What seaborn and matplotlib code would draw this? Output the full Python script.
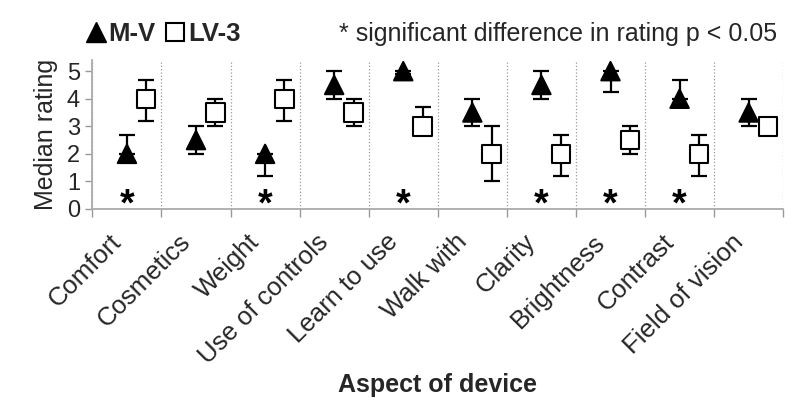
import matplotlib
matplotlib.use("Agg")
import matplotlib.pyplot as plt
from matplotlib.lines import Line2D
import seaborn as sns
import pandas as pd
import numpy as np

categories = ["Comfort", "Cosmetics", "Weight", "Use of controls", "Learn to use",
              "Walk with", "Clarity", "Brightness", "Contrast", "Field of vision"]
mv_median = [2, 2.5, 2, 4.5, 5, 3.5, 4.5, 5, 4, 3.5]
mv_low = [2, 2, 1.2, 4, 4.9, 3, 4, 4.25, 4, 3]
mv_high = [2.67, 3, 2, 5, 5, 4, 5, 5, 4.67, 4]
lv_median = [4, 3.5, 4, 3.5, 3, 2, 2, 2.5, 2, 3]
lv_low = [3.2, 3, 3.2, 3, 3, 1, 1.2, 2, 1.2, 3]
lv_high = [4.67, 4, 4.67, 4, 3.7, 3, 2.67, 3, 2.67, 3]
significant = [True, False, True, False, True, False, True, True, True, False]
star_y = 0.12

sns.set_theme(style="white")
plt.rcParams['font.family'] = ['Liberation Sans', 'DejaVu Sans']

idx = np.arange(len(categories))
lv_off = 0.28
label_shift = 0.26
df = pd.DataFrame({
    "pos": np.concatenate([idx, idx + lv_off]),
    "median": mv_median + lv_median,
    "low": mv_low + lv_low,
    "high": mv_high + lv_high,
    "device": ["M-V"] * len(idx) + ["LV-3"] * len(idx),
})

fig = plt.figure(figsize=(8, 4.15), dpi=100)
ax = fig.add_axes([0.1155, 0.4964, 0.8635, 0.3586])

# error bars
for dev in ["M-V", "LV-3"]:
    d = df[df.device == dev]
    yerr = np.vstack([d["median"] - d["low"], d["high"] - d["median"]])
    ax.errorbar(d["pos"], d["median"], yerr=yerr, fmt="none", ecolor="black",
                elinewidth=1.6, capsize=6, capthick=1.6, zorder=2)

sns.scatterplot(data=df, x="pos", y="median", hue="device", style="device",
                markers={"M-V": "^", "LV-3": "s"},
                palette={"M-V": "black", "LV-3": "white"},
                s=175, edgecolor="black", linewidth=1.5, legend=False, ax=ax, zorder=3)

for i, sig in enumerate(significant):
    if sig:
        ax.text(idx[i], star_y, "*", ha="center", va="center", fontsize=27,
                fontweight="bold", color="black")

ax.set_xlim(-0.5, len(categories) - 0.5)
ax.set_ylim(0, 5.4)
ax.set_yticks(range(0, 6))
# rotated labels sit slightly left of their category (as in the reference)
ax.set_xticks(idx - label_shift)
ax.set_xticklabels(categories, rotation=45, ha="right", rotation_mode="anchor",
                   fontsize=18.5)
ax.set_xticks(np.arange(-0.5, len(categories)), minor=True)
ax.tick_params(axis="x", which="major", length=0, pad=15)
ax.tick_params(axis="x", which="minor", length=6, width=1, color="#999999", direction="out", bottom=True)
ax.tick_params(axis="y", which="major", length=5, width=1, color="#999999", direction="out",
               left=True, labelsize=17, pad=4)
ax.grid(axis="x", which="minor", color="#999999", linestyle=":", linewidth=0.9)
ax.grid(axis="y", visible=False)
for s in ["top", "right"]:
    ax.spines[s].set_visible(False)
for s in ["left", "bottom"]:
    ax.spines[s].set_color("#aaaaaa")
    ax.spines[s].set_linewidth(1.3)

ax.set_xlabel("Aspect of device", fontsize=18, fontweight="bold")
ax.xaxis.set_label_coords(0.5, -1.10)
ax.set_ylabel("Median rating", fontsize=18, labelpad=6)

handles = [
    Line2D([], [], marker="^", color="black", linestyle="none", markersize=14,
           markerfacecolor="black"),
    Line2D([], [], marker="s", color="black", linestyle="none", markersize=13,
           markerfacecolor="white", markeredgewidth=1.5),
]
fig.legend(handles, ["M-V", "LV-3"], loc="center left", bbox_to_anchor=(0.078, 0.918),
           ncol=2, frameon=False, handlelength=0.8, handletextpad=0.1, columnspacing=0.35,
           prop={"weight": "bold", "size": 18.5})
fig.text(0.971, 0.918, "* significant difference in rating p < 0.05", ha="right",
         va="center", fontsize=18)

fig.savefig("out.png", dpi=100)
